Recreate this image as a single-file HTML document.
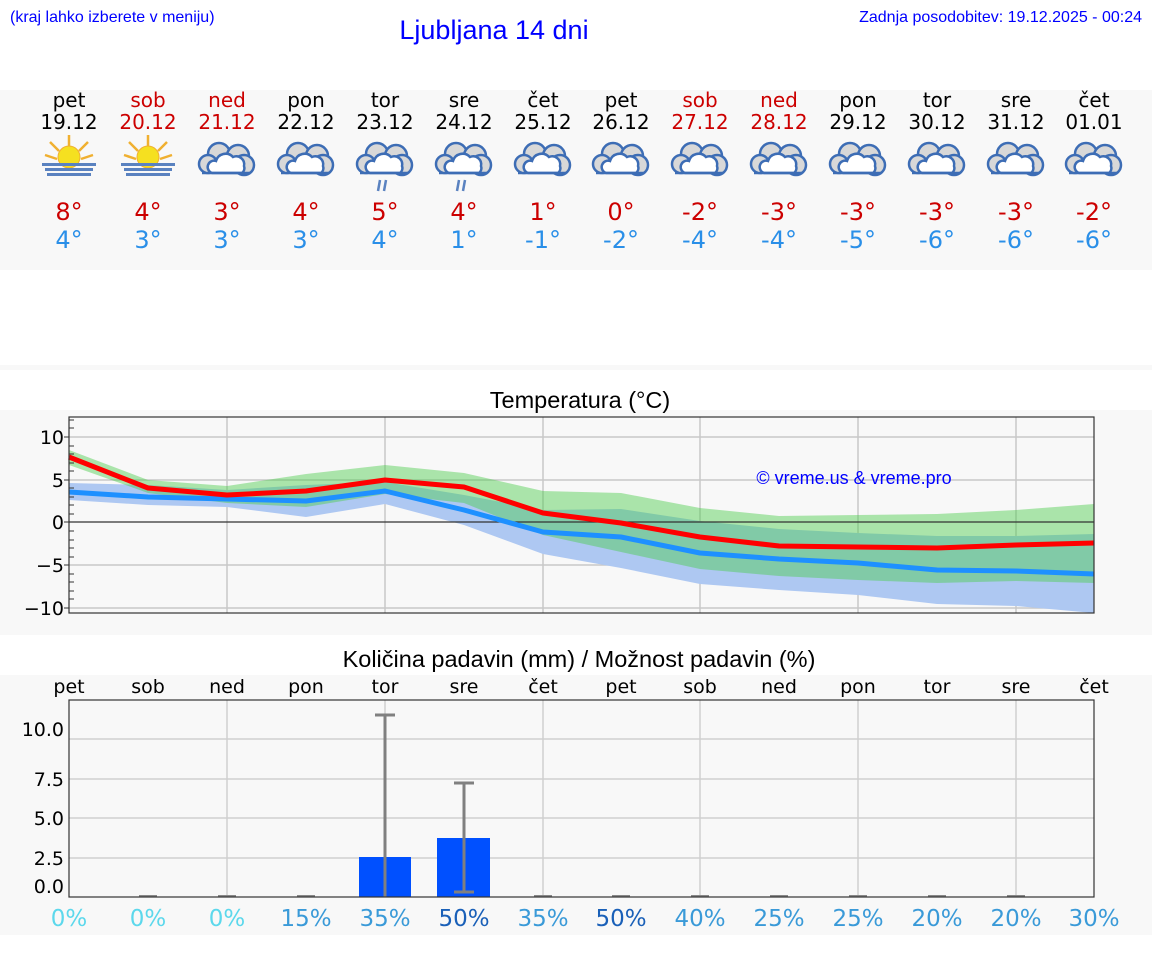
<!DOCTYPE html>
<html><head><meta charset="utf-8"><style>
body{margin:0;background:#fff;}
svg{display:block;font-family:"DejaVu Sans","Liberation Sans",sans-serif;}
</style></head><body>
<svg width="1152" height="975" viewBox="0 0 1152 975" xmlns="http://www.w3.org/2000/svg">
<defs>
<g id="cloud">
 <circle cx="-8" cy="-6" r="11" fill="#d8d8d8" stroke="#3d6db5" stroke-width="2.5"/>
 <circle cx="11" cy="-4" r="11" fill="#d8d8d8" stroke="#3d6db5" stroke-width="2.5"/>
 <circle cx="-19" cy="4" r="9" fill="#d8d8d8" stroke="#3d6db5" stroke-width="2.5"/>
 <circle cx="17" cy="5" r="10" fill="#d8d8d8" stroke="#3d6db5" stroke-width="2.5"/>
 <rect x="-21" y="2" width="42" height="11" fill="#d8d8d8"/>
 <path d="M-15 13 A6 6 0 0 1 -11 1 A10 10 0 0 1 6 -3 A8 8 0 0 1 17 6 A6 6 0 0 1 15 13 Z" fill="#fff" stroke="#3d6db5" stroke-width="2.5"/>
 <path d="M-25 13 L23 13" stroke="#3d6db5" stroke-width="2.5"/>
</g>
<g id="sun">
 <g stroke="#f0b030" stroke-width="2.5">
  <line x1="0" y1="-8" x2="0" y2="-22"/><line x1="-10" y1="-6" x2="-19" y2="-15"/><line x1="10" y1="-6" x2="19" y2="-15"/>
  <line x1="-12" y1="2" x2="-24" y2="-2"/><line x1="12" y1="2" x2="24" y2="-2"/>
 </g>
 <circle cx="0" cy="0" r="11" fill="#f5e020" stroke="#f0b030" stroke-width="1"/>
 <rect x="-27" y="6" width="54" height="3" fill="#5a82c0"/>
 <rect x="-24" y="11" width="48" height="3" fill="#5a82c0"/>
 <rect x="-22" y="16" width="44" height="3" fill="#5a82c0"/>
</g>
<g id="rain"><path d="M-5 20 L-7 31 M1 20 L-1 31" stroke="#5a82c0" stroke-width="2.5"/></g>
</defs>

<text x="10" y="22" font-size="16" fill="#0000ff" font-family="Liberation Sans,sans-serif">(kraj lahko izberete v meniju)</text>
<text x="494" y="39" font-size="27" fill="#0000ff" text-anchor="middle" font-family="Liberation Sans,sans-serif">Ljubljana 14 dni</text>
<text x="1142" y="22" font-size="16" fill="#0000ff" text-anchor="end" font-family="Liberation Sans,sans-serif">Zadnja posodobitev: 19.12.2025 - 00:24</text>

<rect x="0" y="90" width="1152" height="180" fill="#f8f8f8"/>
<rect x="0" y="365" width="1152" height="5" fill="#f8f8f8"/>
<rect x="0" y="410" width="1152" height="225" fill="#f8f8f8"/>
<rect x="0" y="675" width="1152" height="260" fill="#f8f8f8"/>

<g font-size="20" text-anchor="middle">
<text x="69" y="107">pet</text><text x="69" y="129">19.12</text>
<text x="148" y="107" fill="#cc0000">sob</text><text x="148" y="129" fill="#cc0000">20.12</text>
<text x="227" y="107" fill="#cc0000">ned</text><text x="227" y="129" fill="#cc0000">21.12</text>
<text x="306" y="107">pon</text><text x="306" y="129">22.12</text>
<text x="385" y="107">tor</text><text x="385" y="129">23.12</text>
<text x="464" y="107">sre</text><text x="464" y="129">24.12</text>
<text x="543" y="107">čet</text><text x="543" y="129">25.12</text>
<text x="621" y="107">pet</text><text x="621" y="129">26.12</text>
<text x="700" y="107" fill="#cc0000">sob</text><text x="700" y="129" fill="#cc0000">27.12</text>
<text x="779" y="107" fill="#cc0000">ned</text><text x="779" y="129" fill="#cc0000">28.12</text>
<text x="858" y="107">pon</text><text x="858" y="129">29.12</text>
<text x="937" y="107">tor</text><text x="937" y="129">30.12</text>
<text x="1016" y="107">sre</text><text x="1016" y="129">31.12</text>
<text x="1094" y="107">čet</text><text x="1094" y="129">01.01</text>
</g>

<use href="#sun" x="69" y="157"/><use href="#sun" x="148" y="157"/>
<use href="#cloud" x="227" y="160"/><use href="#cloud" x="306" y="160"/>
<use href="#cloud" x="385" y="160"/><use href="#rain" x="385" y="160"/>
<use href="#cloud" x="464" y="160"/><use href="#rain" x="464" y="160"/>
<use href="#cloud" x="543" y="160"/><use href="#cloud" x="621" y="160"/>
<use href="#cloud" x="700" y="160"/><use href="#cloud" x="779" y="160"/>
<use href="#cloud" x="858" y="160"/><use href="#cloud" x="937" y="160"/>
<use href="#cloud" x="1016" y="160"/><use href="#cloud" x="1094" y="160"/>

<g font-size="24" text-anchor="middle" fill="#cc0000">
<text x="69" y="220">8°</text><text x="148" y="220">4°</text><text x="227" y="220">3°</text><text x="306" y="220">4°</text><text x="385" y="220">5°</text><text x="464" y="220">4°</text><text x="543" y="220">1°</text><text x="621" y="220">0°</text><text x="700" y="220">-2°</text><text x="779" y="220">-3°</text><text x="858" y="220">-3°</text><text x="937" y="220">-3°</text><text x="1016" y="220">-3°</text><text x="1094" y="220">-2°</text>
</g>
<g font-size="24" text-anchor="middle" fill="#2a8fe8">
<text x="69" y="248">4°</text><text x="148" y="248">3°</text><text x="227" y="248">3°</text><text x="306" y="248">3°</text><text x="385" y="248">4°</text><text x="464" y="248">1°</text><text x="543" y="248">-1°</text><text x="621" y="248">-2°</text><text x="700" y="248">-4°</text><text x="779" y="248">-4°</text><text x="858" y="248">-5°</text><text x="937" y="248">-6°</text><text x="1016" y="248">-6°</text><text x="1094" y="248">-6°</text>
</g>

<!-- Temperature chart -->
<text x="580" y="408" font-size="23.5" text-anchor="middle" font-family="Liberation Sans,sans-serif">Temperatura (°C)</text>
<g stroke="#c8c8c8" stroke-width="1.5">
<line x1="69" y1="437" x2="1094" y2="437"/><line x1="69" y1="480" x2="1094" y2="480"/><line x1="69" y1="565" x2="1094" y2="565"/><line x1="69" y1="608" x2="1094" y2="608"/>
<line x1="227" y1="417" x2="227" y2="613"/><line x1="385" y1="417" x2="385" y2="613"/><line x1="543" y1="417" x2="543" y2="613"/><line x1="700" y1="417" x2="700" y2="613"/><line x1="858" y1="417" x2="858" y2="613"/><line x1="1016" y1="417" x2="1016" y2="613"/>
</g>
<polygon fill="#aec8f2" points="69,483 148,485 227,490 306,485 385,482 464,495 543,510 621,509 700,521 779,529 858,533 937,536 1016,536 1094,534 1094,613 1016,606 937,604 858,595 779,590 700,584 621,568 543,554 464,525 385,504 306,517 227,507 148,505 69,500"/>
<polygon fill="#4ccc4c" fill-opacity="0.45" points="69,450 148,480 227,486 306,474 385,465 464,473 543,491 621,493 700,508 779,516 858,515 937,514 1016,510 1094,504 1094,583 1016,581 937,583 858,580 779,576 700,569 621,552 543,535 464,503 385,494 306,507 227,503 148,493 69,465"/>
<line x1="69" y1="522" x2="1094" y2="522" stroke="#333" stroke-width="1.2"/>
<polyline fill="none" stroke="#1e90ff" stroke-width="5" stroke-linejoin="round" points="69,492 148,497 227,499 306,501 385,491 464,510 543,532 621,537 700,553 779,559 858,563 937,570 1016,571 1094,574"/>
<polyline fill="none" stroke="#ff0000" stroke-width="5" stroke-linejoin="round" points="69,457 148,488 227,495 306,491 385,480 464,487 543,513 621,523 700,537 779,546 858,547 937,548 1016,545 1094,543"/>
<text x="854" y="484" font-size="18" fill="#0000ff" text-anchor="middle" font-family="Liberation Sans,sans-serif">© vreme.us &amp; vreme.pro</text>
<rect x="69" y="417" width="1025" height="196" fill="none" stroke="#333" stroke-width="1.2"/>
<g stroke="#333" stroke-width="1">
<line x1="64" y1="437" x2="69" y2="437"/><line x1="64" y1="480" x2="69" y2="480"/><line x1="64" y1="522" x2="69" y2="522"/><line x1="64" y1="565" x2="69" y2="565"/><line x1="64" y1="608" x2="69" y2="608"/>
<line x1="69" y1="420" x2="74" y2="420"/><line x1="69" y1="428" x2="74" y2="428"/><line x1="69" y1="446" x2="74" y2="446"/><line x1="69" y1="454" x2="74" y2="454"/><line x1="69" y1="463" x2="74" y2="463"/><line x1="69" y1="471" x2="74" y2="471"/><line x1="69" y1="488" x2="74" y2="488"/><line x1="69" y1="497" x2="74" y2="497"/><line x1="69" y1="505" x2="74" y2="505"/><line x1="69" y1="514" x2="74" y2="514"/><line x1="69" y1="531" x2="74" y2="531"/><line x1="69" y1="540" x2="74" y2="540"/><line x1="69" y1="548" x2="74" y2="548"/><line x1="69" y1="557" x2="74" y2="557"/><line x1="69" y1="574" x2="74" y2="574"/><line x1="69" y1="582" x2="74" y2="582"/><line x1="69" y1="591" x2="74" y2="591"/><line x1="69" y1="599" x2="74" y2="599"/>
</g>
<g font-size="19" text-anchor="end">
<text x="64" y="444">10</text><text x="64" y="487">5</text><text x="64" y="529">0</text><text x="64" y="572">−5</text><text x="64" y="615">−10</text>
</g>

<!-- Precip chart -->
<text x="579" y="667" font-size="23.5" text-anchor="middle" font-family="Liberation Sans,sans-serif">Količina padavin (mm) / Možnost padavin (%)</text>
<g font-size="19" text-anchor="middle">
<text x="69" y="693">pet</text><text x="148" y="693">sob</text><text x="227" y="693">ned</text><text x="306" y="693">pon</text><text x="385" y="693">tor</text><text x="464" y="693">sre</text><text x="543" y="693">čet</text><text x="621" y="693">pet</text><text x="700" y="693">sob</text><text x="779" y="693">ned</text><text x="858" y="693">pon</text><text x="937" y="693">tor</text><text x="1016" y="693">sre</text><text x="1094" y="693">čet</text>
</g>
<g stroke="#d0d0d0" stroke-width="1.5">
<line x1="69" y1="739" x2="1094" y2="739"/><line x1="69" y1="779" x2="1094" y2="779"/><line x1="69" y1="818" x2="1094" y2="818"/><line x1="69" y1="858" x2="1094" y2="858"/>
<line x1="227" y1="700" x2="227" y2="897"/><line x1="385" y1="700" x2="385" y2="897"/><line x1="543" y1="700" x2="543" y2="897"/><line x1="700" y1="700" x2="700" y2="897"/><line x1="858" y1="700" x2="858" y2="897"/><line x1="1016" y1="700" x2="1016" y2="897"/>
</g>
<rect x="359" y="857" width="52" height="40" fill="#0050ff"/>
<rect x="437" y="838" width="53" height="59" fill="#0050ff"/>
<g stroke="#808080" stroke-width="3">
<line x1="385" y1="715" x2="385" y2="897"/><line x1="375" y1="715" x2="395" y2="715"/>
<line x1="464" y1="783" x2="464" y2="892"/><line x1="454" y1="783" x2="474" y2="783"/><line x1="454" y1="892" x2="474" y2="892"/>
</g>
<g stroke="#888" stroke-width="2">
<line x1="139" y1="896" x2="157" y2="896"/><line x1="218" y1="896" x2="236" y2="896"/><line x1="297" y1="896" x2="315" y2="896"/><line x1="534" y1="896" x2="552" y2="896"/><line x1="612" y1="896" x2="630" y2="896"/><line x1="691" y1="896" x2="709" y2="896"/><line x1="770" y1="896" x2="788" y2="896"/><line x1="849" y1="896" x2="867" y2="896"/><line x1="928" y1="896" x2="946" y2="896"/><line x1="1007" y1="896" x2="1025" y2="896"/>
</g>
<rect x="69" y="700" width="1025" height="197" fill="none" stroke="#333" stroke-width="1.2"/>
<g font-size="19" text-anchor="end">
<text x="64" y="736">10.0</text><text x="64" y="786">7.5</text><text x="64" y="825">5.0</text><text x="64" y="865">2.5</text><text x="64" y="893">0.0</text>
</g>
<g font-size="23" text-anchor="middle">
<text x="69" y="926" fill="#5cd8ec">0%</text><text x="148" y="926" fill="#5cd8ec">0%</text><text x="227" y="926" fill="#5cd8ec">0%</text>
<text x="306" y="926" fill="#3a9ad8">15%</text><text x="385" y="926" fill="#3a9ad8">35%</text><text x="464" y="926" fill="#1a60b8">50%</text>
<text x="543" y="926" fill="#3a9ad8">35%</text><text x="621" y="926" fill="#1a60b8">50%</text><text x="700" y="926" fill="#3a9ad8">40%</text>
<text x="779" y="926" fill="#3a9ad8">25%</text><text x="858" y="926" fill="#3a9ad8">25%</text><text x="937" y="926" fill="#3a9ad8">20%</text>
<text x="1016" y="926" fill="#3a9ad8">20%</text><text x="1094" y="926" fill="#3a9ad8">30%</text>
</g>
</svg>
</body></html>
